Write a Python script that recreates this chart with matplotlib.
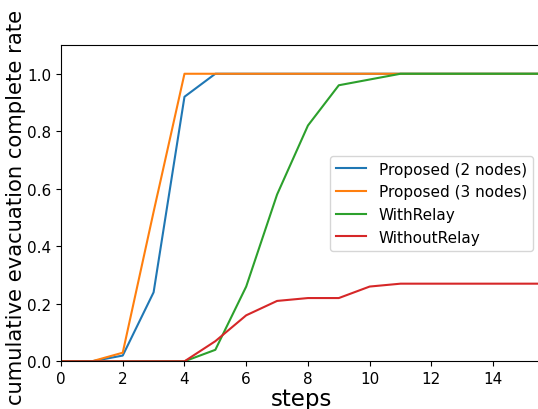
import matplotlib
matplotlib.use("Agg")
import matplotlib.pyplot as plt

steps = list(range(17))
proposed_2 = [0, 0, 0.02, 0.24, 0.92, 1.0, 1.0, 1.0, 1.0, 1.0, 1.0, 1.0, 1.0, 1.0, 1.0, 1.0, 1.0]
proposed_3 = [0, 0, 0.03, 0.52, 1.0, 1.0, 1.0, 1.0, 1.0, 1.0, 1.0, 1.0, 1.0, 1.0, 1.0, 1.0, 1.0]
with_relay = [0, 0, 0, 0, 0, 0.04, 0.26, 0.58, 0.82, 0.96, 0.98, 1.0, 1.0, 1.0, 1.0, 1.0, 1.0]
without_relay = [0, 0, 0, 0, 0, 0.07, 0.16, 0.21, 0.22, 0.22, 0.26, 0.27, 0.27, 0.27, 0.27, 0.27, 0.27]

fig = plt.figure(figsize=(5.38, 4.10), dpi=100)
ax = fig.add_axes([0.1134, 0.1163, 0.895, 0.7715])

ax.plot(steps, proposed_2, label="Proposed (2 nodes)")
ax.plot(steps, proposed_3, label="Proposed (3 nodes)")
ax.plot(steps, with_relay, label="WithRelay")
ax.plot(steps, without_relay, label="WithoutRelay")

ax.set_xlim(0, 15.6)
ax.set_ylim(0, 1.1)
ax.set_xticks([0, 2, 4, 6, 8, 10, 12, 14])
ax.set_yticks([0.0, 0.2, 0.4, 0.6, 0.8, 1.0])
ax.tick_params(labelsize=11)
ax.set_xlabel("steps", fontsize=16.5, labelpad=1)
ax.set_ylabel("cumulative evacuation complete rate", fontsize=15.2, labelpad=0)
ax.yaxis.set_label_coords(-0.072, 0.49)
ax.legend(fontsize=11, loc="center right", bbox_to_anchor=(0.996, 0.50))

fig.savefig("out.png", dpi=100)
